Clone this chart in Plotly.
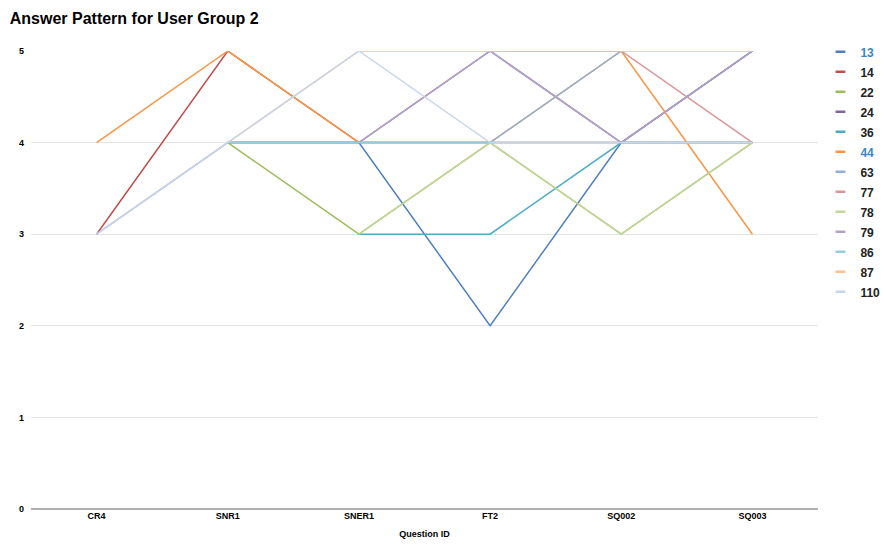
import plotly.graph_objects as go

# Questions along the x axis
questions = ["CR4", "SNR1", "SNER1", "FT2", "SQ002", "SQ003"]

# Answers per user (None = question not answered)
user_13 = [None, 4, 4, 2, 4, 5]
user_14 = [3, 5, 4, 4, 4, 4]
user_22 = [None, 4, 3, 4, 3, 4]
user_24 = [None, 4, 4, 5, 4, 5]
user_36 = [None, None, 3, 3, 4, 4]
user_44 = [4, 5, 4, 4, 5, 3]
user_63 = [None, None, 4, 4, 5, None]
user_77 = [None, None, None, 5, 5, 4]
user_78 = [None, None, 3, 4, 3, 4]
user_79 = [3, 4, 4, 5, 4, 5]
user_86 = [None, 4, 4, 4, 4, 4]
user_87 = [None, 4, 5, 5, 5, 5]
user_110 = [3, 4, 5, 4, 4, 4]

user_ids = ["13", "14", "22", "24", "36", "44", "63", "77", "78", "79", "86", "87", "110"]
answers = [user_13, user_14, user_22, user_24, user_36, user_44, user_63,
           user_77, user_78, user_79, user_86, user_87, user_110]

colors = ["#4f7fc0", "#c0504d", "#9bbb59", "#8064a2", "#4bacc6", "#f79646",
          "#8fb0d8", "#d99694", "#c3d69b", "#b3a2c7", "#93cddd", "#fac090", "#c6d6ec"]

# Users whose legend label is highlighted
highlighted = {"13", "44"}

FONT = "Arial, Liberation Sans, sans-serif"

fig = go.Figure()

for uid, vals, col in zip(user_ids, answers, colors):
    fig.add_trace(go.Scatter(
        x=questions, y=vals, mode="lines", name=uid,
        line=dict(color=col, width=1.5),
        showlegend=False, legendgroup=uid,
        hovertemplate="%{x}: %{y}<extra>" + uid + "</extra>",
    ))

# Legend entries drawn as short dashes
for uid, col in zip(user_ids, colors):
    label_color = "#3d85c6" if uid in highlighted else "#222222"
    fig.add_trace(go.Scatter(
        x=[None], y=[None], mode="markers",
        name=f'<span style="color:{label_color}">{uid}</span>',
        legendgroup=uid,
        marker=dict(symbol="line-ew", size=7, line=dict(color=col, width=2.5)),
    ))

fig.update_layout(
    width=886, height=549,
    margin=dict(l=31, r=68, t=51, b=40, autoexpand=False),
    paper_bgcolor="white", plot_bgcolor="white",
    title=dict(
        text="<b>Answer Pattern for User Group 2</b>",
        font=dict(family=FONT, size=16, color="#000000"),
        x=0.011, xref="container", xanchor="left",
        y=0.967, yref="container", yanchor="middle",
    ),
    legend=dict(
        xref="container", yref="container",
        x=0.926, xanchor="left", y=0.932, yanchor="top",
        font=dict(family=FONT, size=12, color="#222222", weight="bold"),
        itemwidth=30, tracegroupgap=1,
        bgcolor="rgba(0,0,0,0)",
    ),
    font=dict(family=FONT),
)

fig.update_xaxes(
    type="category", categoryorder="array", categoryarray=questions,
    range=[-0.5, 5.5], showgrid=False, zeroline=False,
    showline=False, ticks="",
    tickfont=dict(family=FONT, size=9, color="#000000", weight="bold"),
    title=dict(text="<b>Question ID</b>", font=dict(family=FONT, size=9, color="#000000"), standoff=10),
)

fig.update_yaxes(
    range=[0, 5], dtick=1, showgrid=True, gridcolor="#e3e3e3", gridwidth=1,
    zeroline=True, zerolinecolor="#b0b0b0", zerolinewidth=1.5,
    showline=False, ticks="",
    tickfont=dict(family=FONT, size=9, color="#000000", weight="bold"),
    ticklabelstandoff=6,
)

fig.write_html("out.html")
